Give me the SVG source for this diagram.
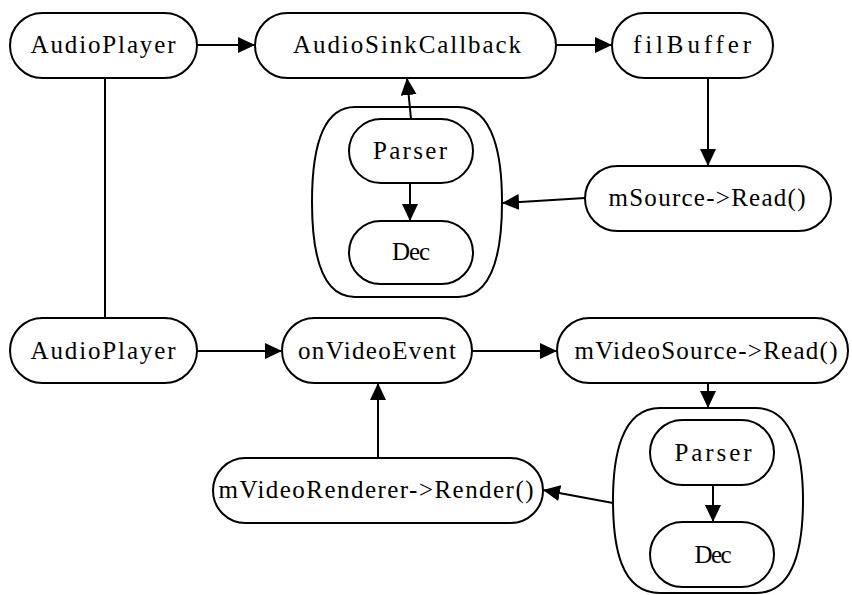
<svg xmlns="http://www.w3.org/2000/svg" width="852" height="595" viewBox="0 0 852 595">
<style>
.n{fill:#fff;stroke:#000;stroke-width:2}
.t{font-family:"Liberation Serif",serif;font-size:25px;text-anchor:middle;fill:#000}
.c{stroke:#000;stroke-width:2;fill:none}
.a{marker-end:url(#ah)}
</style>
<defs>
<marker id="ah" markerUnits="userSpaceOnUse" markerWidth="18" markerHeight="16" refX="17" refY="8" orient="auto">
<path d="M0,0 L17,8 L0,16 z" fill="#000"/>
</marker>
</defs>
<rect width="852" height="595" fill="#fff"/>
<g id="audioPlayer1"><rect class="n" x="10" y="13" width="187" height="65" rx="32.5"/><text class="t" x="103" y="53" textLength="145" lengthAdjust="spacing">AudioPlayer</text></g>
<g id="audioSinkCallback"><rect class="n" x="255" y="13" width="301" height="65" rx="32.5"/><text class="t" x="407" y="53" textLength="228" lengthAdjust="spacing">AudioSinkCallback</text></g>
<g id="filBuffer"><rect class="n" x="612" y="13" width="161" height="65" rx="32.5"/><text class="t" x="692" y="53" textLength="118" lengthAdjust="spacing">filBuffer</text></g>
<g id="mSourceRead"><rect class="n" x="585" y="166" width="246" height="65" rx="32.5"/><text class="t" x="707" y="206" textLength="197" lengthAdjust="spacing">mSource-&gt;Read()</text></g>
<g id="container1">
<path class="n" d="M355,107 L458,107 C495,107 502,160 502,202 C502,245 495,297 458,297 L355,297 C318,297 312,245 312,202 C312,160 318,107 355,107 Z"/>
</g>
<g id="parser1"><rect class="n" x="349" y="119" width="124" height="64" rx="32"/><text class="t" x="410" y="159" textLength="74" lengthAdjust="spacing">Parser</text></g>
<g id="dec1"><rect class="n" x="349" y="221" width="124" height="63" rx="31.5"/><text class="t" x="411" y="260" textLength="38" lengthAdjust="spacing">Dec</text></g>
<g id="audioPlayer2"><rect class="n" x="10" y="318" width="187" height="65" rx="32.5"/><text class="t" x="103" y="359" textLength="145" lengthAdjust="spacing">AudioPlayer</text></g>
<g id="onVideoEvent"><rect class="n" x="282" y="318" width="190" height="65" rx="32.5"/><text class="t" x="377" y="359" textLength="158" lengthAdjust="spacing">onVideoEvent</text></g>
<g id="mVideoSourceRead"><rect class="n" x="557" y="318" width="291" height="65" rx="32.5"/><text class="t" x="706" y="359" textLength="263" lengthAdjust="spacing">mVideoSource-&gt;Read()</text></g>
<g id="container2">
<path class="n" d="M660,408 L756,408 C795,408 803,460 803,500 C803,545 795,593 756,593 L660,593 C620,593 613,545 613,500 C613,460 620,408 660,408 Z"/>
</g>
<g id="parser2"><rect class="n" x="650" y="420" width="124" height="65" rx="32.5"/><text class="t" x="713" y="461" textLength="77" lengthAdjust="spacing">Parser</text></g>
<g id="dec2"><rect class="n" x="650" y="522" width="124" height="65" rx="32.5"/><text class="t" x="713" y="563" textLength="37" lengthAdjust="spacing">Dec</text></g>
<g id="mVideoRendererRender"><rect class="n" x="213" y="458" width="330" height="65" rx="32.5"/><text class="t" x="376" y="498" textLength="315" lengthAdjust="spacing">mVideoRenderer-&gt;Render()</text></g>
<g id="connectors">
<line class="c a" x1="197" y1="45" x2="255" y2="45"/>
<line class="c a" x1="556" y1="45" x2="612" y2="45"/>
<line class="c a" x1="708" y1="78" x2="708" y2="166"/>
<line class="c a" x1="585" y1="198" x2="502" y2="203"/>
<line class="c a" x1="411" y1="119" x2="407" y2="78"/>
<line class="c a" x1="410" y1="183" x2="410" y2="221"/>
<line class="c" x1="105" y1="78" x2="105" y2="318"/>
<line class="c a" x1="197" y1="351" x2="282" y2="351"/>
<line class="c a" x1="472" y1="351" x2="557" y2="351"/>
<line class="c a" x1="708" y1="383" x2="708" y2="408"/>
<line class="c a" x1="713" y1="485" x2="713" y2="522"/>
<line class="c a" x1="378" y1="458" x2="378" y2="383"/>
<line class="c a" x1="613" y1="503" x2="543" y2="490"/>
</g>
</svg>
